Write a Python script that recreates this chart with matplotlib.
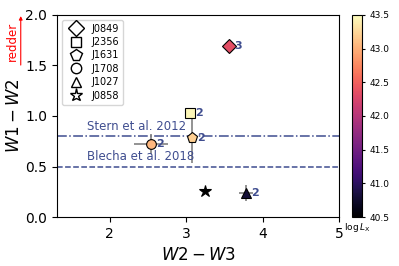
import numpy as np
import matplotlib
matplotlib.use("Agg")
from matplotlib import pyplot as plt
from matplotlib.colors import Normalize

# source data
names = ["J0849", "J2356", "J1631", "J1708", "J1027", "J0858"]
markers = ["D", "s", "p", "o", "^", "*"]
w23 = [3.56, 3.05, 3.07, 2.54, 3.78, 3.24]
w12 = [1.69, 1.03, 0.78, 0.72, 0.24, 0.26]
w23_err = [0.0, 0.0, 0.0, 0.22, 0.09, 0.0]
w12_err = [0.0, 0.0, 0.25, 0.10, 0.08, 0.0]
log_lx = [42.35, 43.45, 43.2, 43.05, 40.8, None]
n_comp = ["3", "2", "2", "2", "2", ""]

cmap = plt.get_cmap("magma")
norm = Normalize(vmin=40.5, vmax=43.5)
lab_col = "#3f4d8f"
sizes = {"D": 7.5, "s": 7, "p": 8, "o": 7, "^": 7, "*": 9}

fig = plt.figure(figsize=(3.99, 2.66), dpi=100)
ax = fig.add_axes([0.143, 0.184, 0.707, 0.76])
cax = fig.add_axes([0.882, 0.184, 0.025, 0.76])

# error bars first
for i in range(len(names)):
    if w23_err[i] > 0 or w12_err[i] > 0:
        ax.errorbar(w23[i], w12[i], xerr=w23_err[i], yerr=w12_err[i],
                    fmt="none", ecolor="gray", elinewidth=1.2, zorder=2)

for i in range(len(names)):
    if log_lx[i] is None:
        col = "black"
    else:
        col = cmap(norm(log_lx[i]))
    ax.plot(w23[i], w12[i], marker=markers[i], color=col, markeredgecolor="black",
            markersize=sizes[markers[i]], markeredgewidth=0.8,
            linestyle="none", zorder=3)
    if n_comp[i]:
        ax.text(w23[i] + 0.07, w12[i], n_comp[i], color=lab_col, fontsize=8,
                fontweight="bold", va="center", ha="left", zorder=4)

# AGN cuts
ax.axhline(0.8, color=lab_col, linestyle="-.", linewidth=1.1, zorder=1)
ax.axhline(0.5, color=lab_col, linestyle="--", linewidth=1.1, zorder=1)
ax.text(1.7, 0.83, "Stern et al. 2012", color=lab_col, fontsize=8.5, va="bottom")
ax.text(1.7, 0.53, "Blecha et al. 2018", color=lab_col, fontsize=8.5, va="bottom")

# legend with open markers
for i in range(len(names)):
    ax.plot([], [], marker=markers[i], color="white", markeredgecolor="black",
            markersize=sizes[markers[i]] + 0.5, linestyle="none", label=names[i])
ax.legend(loc="upper left", fontsize=7, handletextpad=0.6, labelspacing=0.35,
          borderpad=0.4, frameon=True)

ax.set_xlim(1.31, 5)
ax.set_ylim(0, 2)
ax.set_xticks([2, 3, 4, 5])
ax.set_yticks([0.0, 0.5, 1.0, 1.5, 2.0])
ax.tick_params(labelsize=10)
ax.set_xlabel(r"$W2-W3$", fontsize=12)
ax.set_ylabel(r"$W1-W2$", fontsize=12, labelpad=2)

# "redder" arrow
fig.text(0.032, 0.846, "redder", color="red", rotation=90, fontsize=8.5,
         ha="center", va="center")
fig.patches.append(matplotlib.patches.FancyArrowPatch(
    (0.052, 0.745), (0.052, 0.95), transform=fig.transFigure,
    arrowstyle="-|>", mutation_scale=5, color="red", linewidth=0.8))

sm = plt.cm.ScalarMappable(norm=norm, cmap=cmap)
cb = fig.colorbar(sm, cax=cax, ticks=np.arange(40.5, 43.6, 0.5))
cb.ax.tick_params(labelsize=6.5, length=2)
cax.text(0.5, -0.02, r"$\log L_\mathrm{X}$", transform=cax.transAxes,
         fontsize=6.5, ha="center", va="top")

fig.savefig("out.png", dpi=100)
